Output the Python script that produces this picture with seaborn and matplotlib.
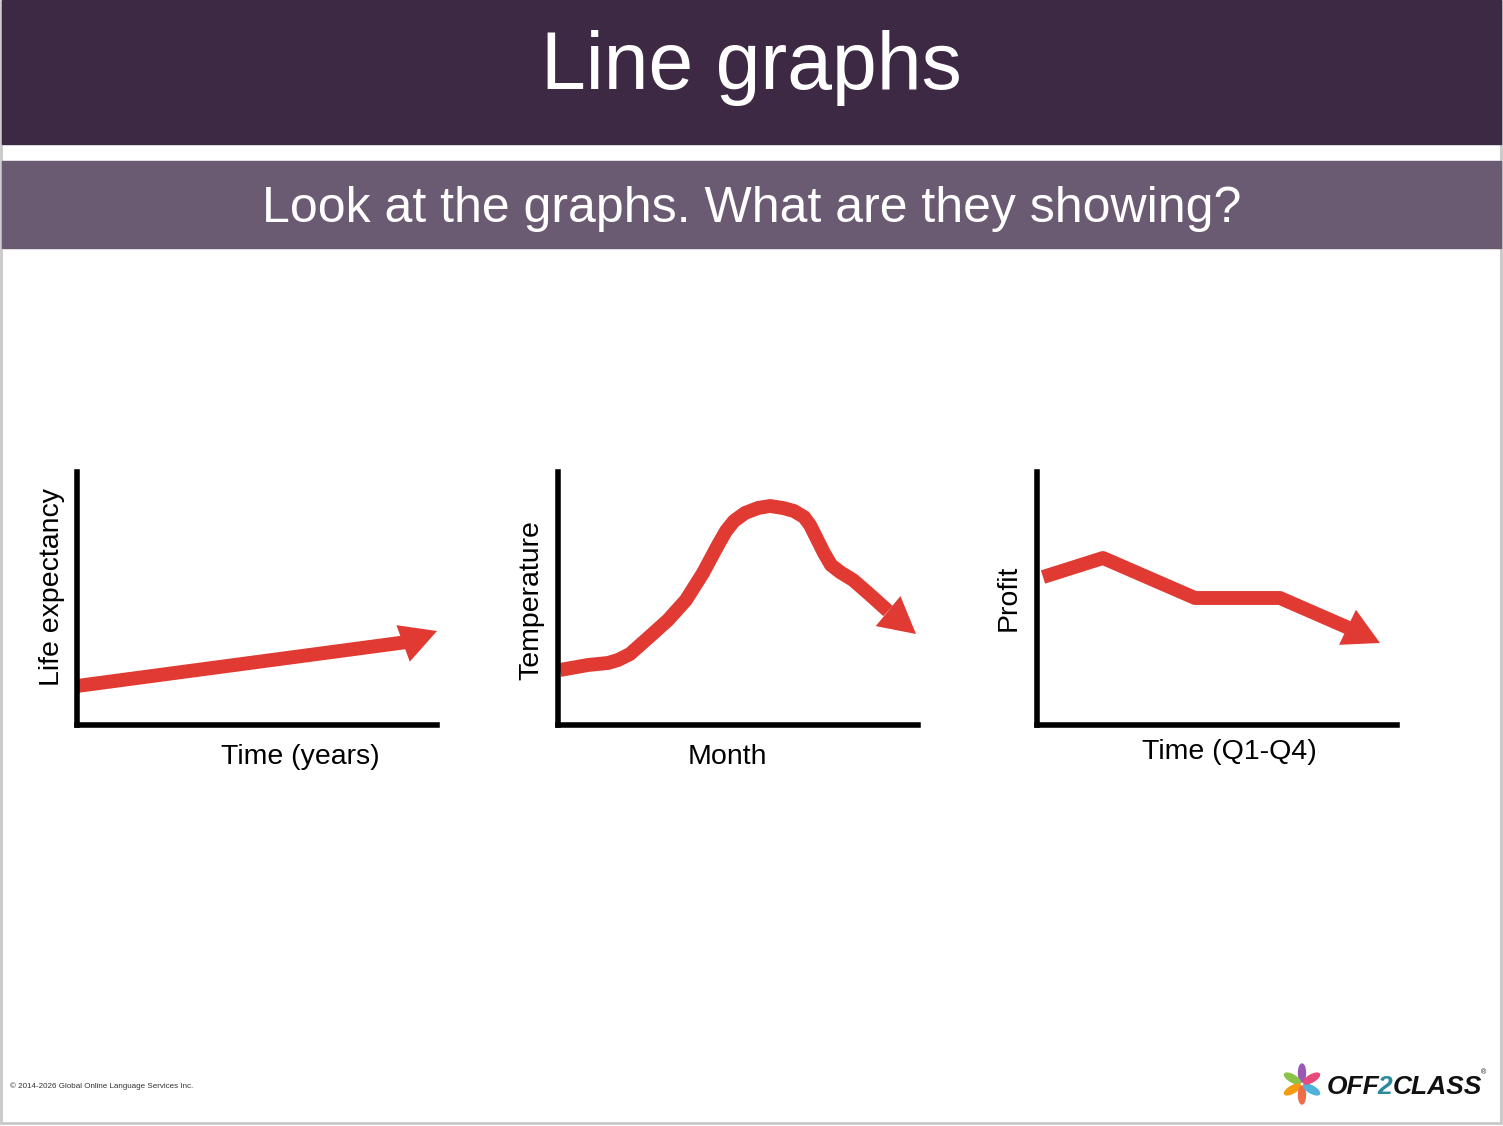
import matplotlib
matplotlib.use("Agg")
import matplotlib.pyplot as plt
import seaborn as sns
import pandas as pd
from matplotlib.patches import Rectangle, Ellipse
import math

sns.set_theme(style="white")
plt.rcParams['font.family'] = ['Liberation Sans', 'DejaVu Sans']

# Data (pixel-read positions, relative to each axis origin)
p1_x = [0, 330]
p1_y = [39, 83]
p1_tip = (360, 94)
p2_x = [2, 30, 50, 60, 72, 90, 110, 128, 145, 160, 168, 176, 187, 200, 212, 225, 236, 246, 252, 258, 266, 273, 282, 295, 310, 330]
p2_y = [55, 60, 62, 65, 71, 87, 105, 125, 152, 180, 194, 204, 212, 217, 219, 217, 214, 208, 200, 188, 172, 160, 153, 145, 132, 114]
p2_tip = (358, 91)
p3_x = [6, 66, 158, 243, 314]
p3_y = [148, 167, 127, 127, 96]
p3_tip = (343, 82)
labels_x = ["Time (years)", "Month", "Time (Q1-Q4)"]
labels_y = ["Life expectancy", "Temperature", "Profit"]

W, H = 1503, 1126
fig = plt.figure(figsize=(W/100, H/100), dpi=100)
fig.patch.set_facecolor("white")

def fr(x, y, w, h):
    return [x/W, 1-(y+h)/H, w/W, h/H]

bg = fig.add_axes([0, 0, 1, 1]); bg.set_xlim(0, W); bg.set_ylim(H, 0); bg.axis("off")
bg.add_patch(Rectangle((1, 1), W-3, H-4, fill=False, ec="#c8c8c8", lw=2))
bg.add_patch(Rectangle((2, 0), W-4, 144, color="#3d2944"))
bg.add_patch(Rectangle((2, 161), W-4, 87, color="#6a5a72"))
bg.text(W/2, 68, "Line graphs", color="white", fontsize=58, ha="center", va="center")
bg.text(752, 209, "Look at the graphs. What are they showing?", color="white", fontsize=36, ha="center", va="center")
bg.text(10, 1086, "© 2014-2026 Global Online Language Services Inc.", fontsize=5.8, color="#333", va="center")
# logo
cx, cy = 1302, 1084
cols = ["#9b59b6", "#8bc34a", "#f39c12", "#ef6c4a", "#4fb3d9", "#e84a7a"]
for i, c in enumerate(cols):
    a = math.radians(90 + i*60)
    bg.add_patch(Ellipse((cx+11*math.cos(a), cy-11*math.sin(a)), 18, 7, angle=-(90+i*60), color=c))
bg.text(1327, 1087, "OFF", fontsize=19, weight="bold", style="italic", color="#111", va="center")
bg.text(1377, 1087, "2", fontsize=19, weight="bold", style="italic", color="#2a8a9c", va="center")
bg.text(1393, 1087, "CLASS", fontsize=19, weight="bold", style="italic", color="#111", va="center")
bg.text(1481, 1073, "®", fontsize=5, color="#111", va="center")

red = "#e03a32"
panels = [(77, p1_x, p1_y, p1_tip), (558, p2_x, p2_y, p2_tip), (1037, p3_x, p3_y, p3_tip)]
for i, (x0, xs, ys, tip) in enumerate(panels):
    ax = fig.add_axes(fr(x0, 472, 360, 253))
    ax.set_xlim(0, 360); ax.set_ylim(0, 253)
    df = pd.DataFrame({"x": xs, "y": ys})
    sns.lineplot(data=df, x="x", y="y", ax=ax, color=red, lw=10, sort=False,
                 solid_capstyle="butt", solid_joinstyle="round")
    ax.annotate("", xy=tip, xytext=(xs[-1], ys[-1]),
                arrowprops=dict(arrowstyle="-|>,head_length=2.6,head_width=1.4",
                                mutation_scale=10, color=red, lw=0, shrinkA=0, shrinkB=0))
    ax.set_xticks([]); ax.set_yticks([])
    ax.set_xlabel(""); ax.set_ylabel("")
    for s in ["top", "right"]:
        ax.spines[s].set_visible(False)
    for s in ["left", "bottom"]:
        ax.spines[s].set_color("black"); ax.spines[s].set_linewidth(4)
    ax.patch.set_alpha(0)
ly = [757, 757, 752]
lx = [300, 727, 1229]
yl = [(52, 587), (531, 600), (1009, 598)]
for i in range(3):
    bg.text(lx[i], ly[i], labels_x[i], fontsize=20.5, ha="center", va="center", color="black")
    bg.text(yl[i][0], yl[i][1], labels_y[i], fontsize=20.5, rotation=90, ha="center", va="center", color="black")

fig.savefig("out.png", dpi=100)
